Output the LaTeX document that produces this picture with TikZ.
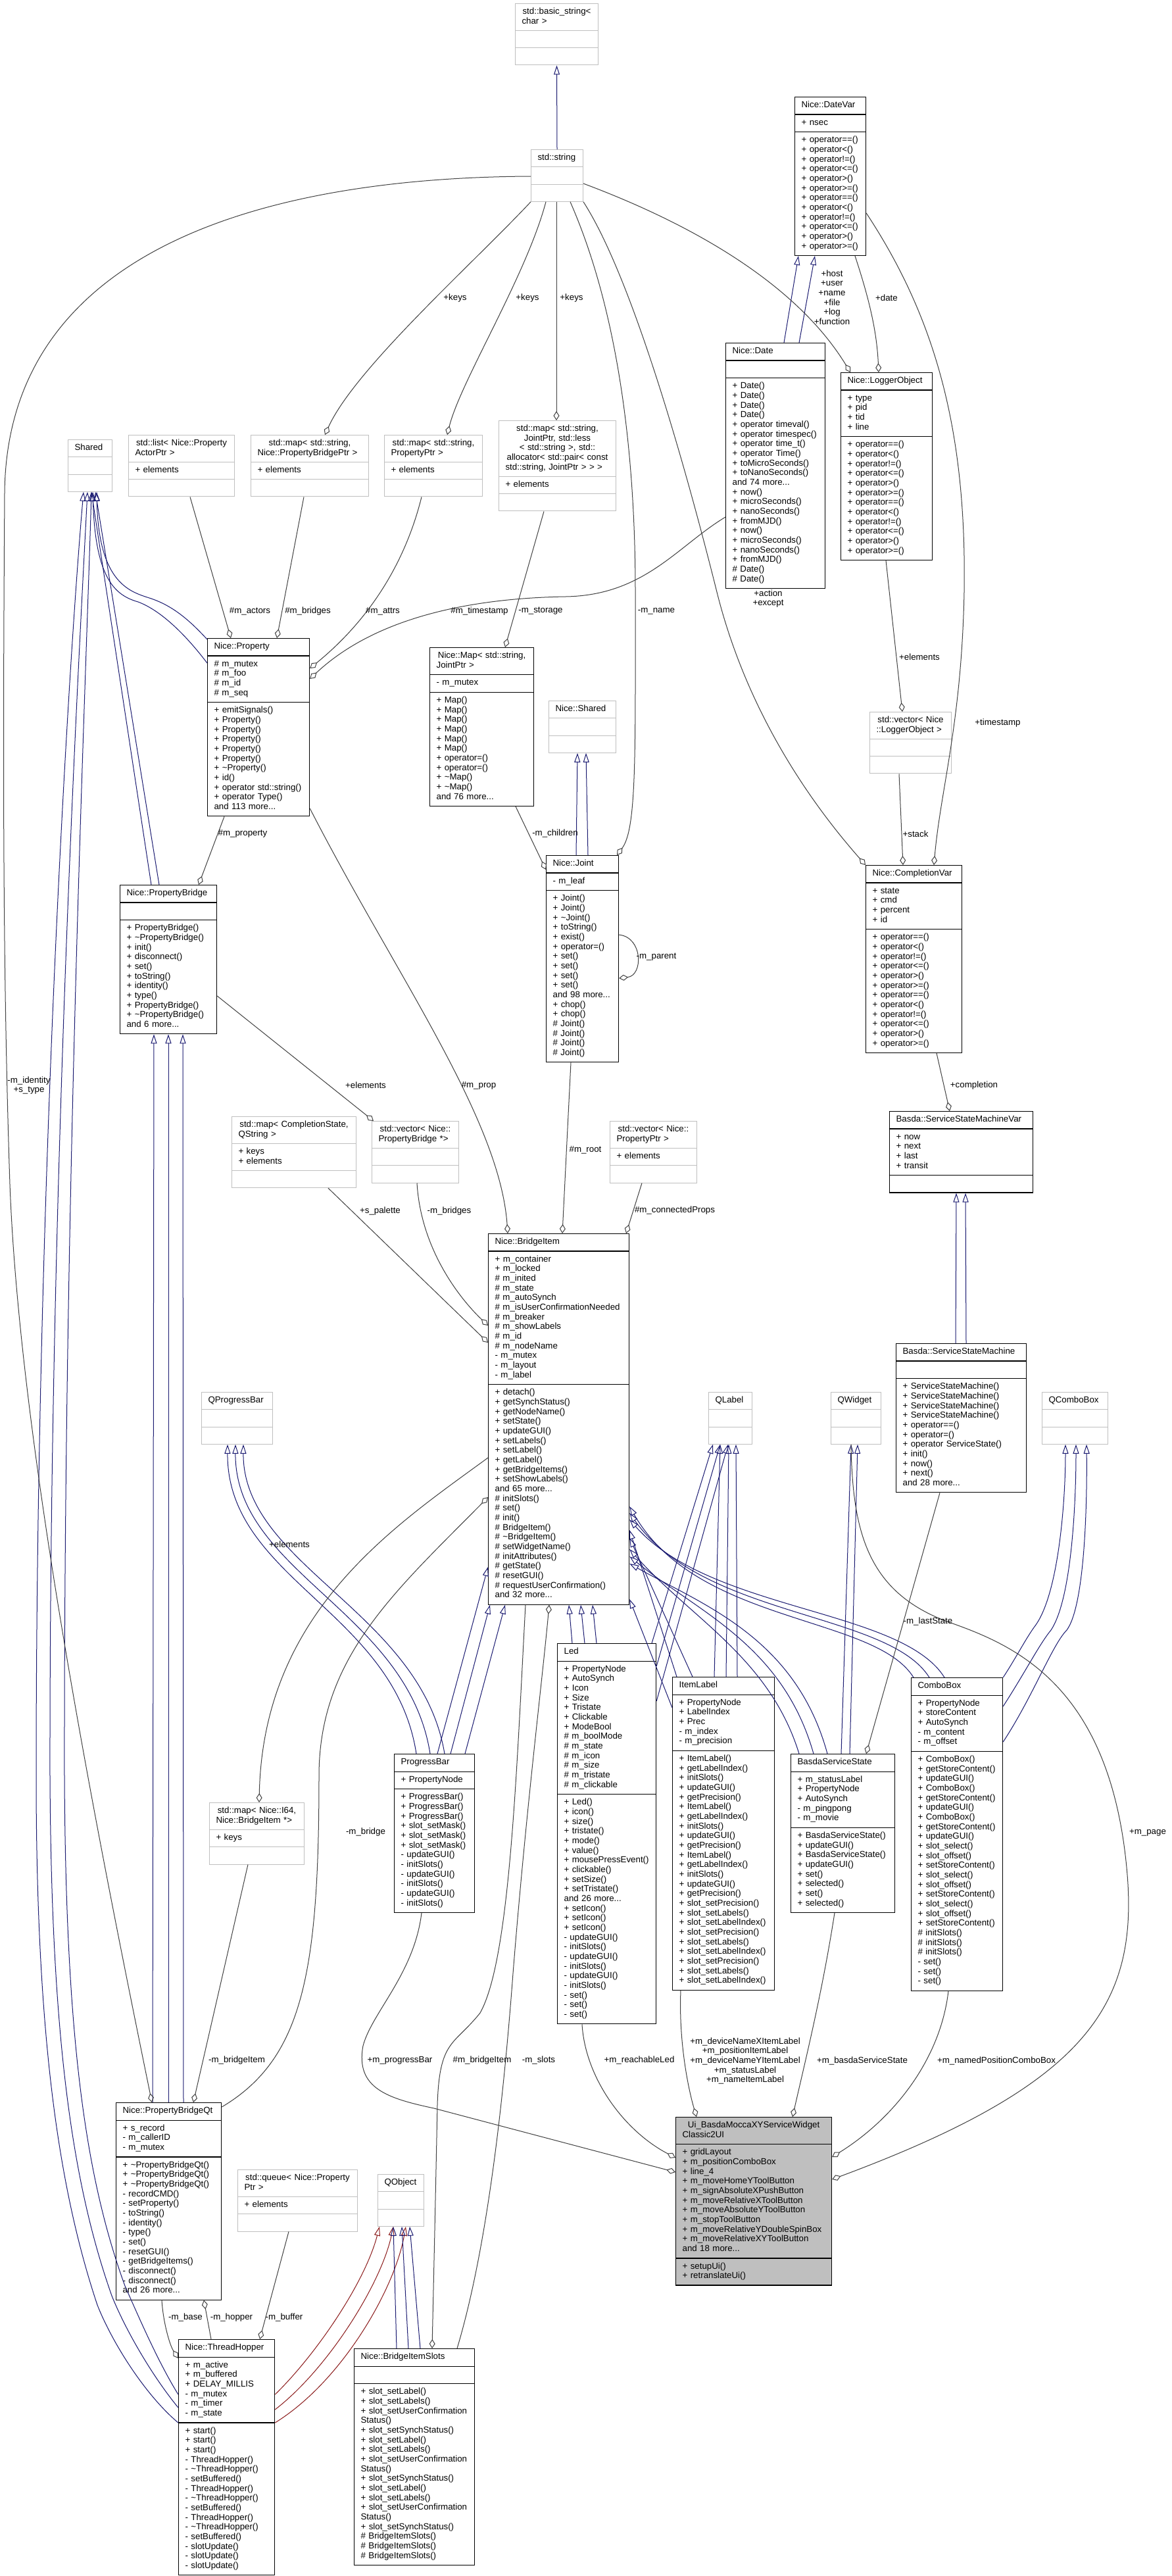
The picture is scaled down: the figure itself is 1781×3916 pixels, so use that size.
\documentclass[tikz,border=0pt]{standalone}
\usepackage{fontspec}
\setmainfont{Liberation Sans}
\usetikzlibrary{shapes.multipart,arrows.meta}
\definecolor{inhc}{HTML}{191970}
\definecolor{privc}{HTML}{8B1A1A}
\definecolor{aggc}{HTML}{404040}
\definecolor{gbord}{HTML}{BFBFBF}
\newcommand{\fs}{\fontsize{13.3}{14.67}\selectfont\parindent=0pt\parskip=0pt\relax}
\newcommand{\sixops}{+ operator==()\\+ operator<()\\+ operator!=()\\+ operator<=()\\+ operator>()\\+ operator>=()}
\newcommand{\umlc}[8]{%
  \node[#1, text width=#5] (#2) at (#3,#4) {\centering\leftskip=-40pt plus 1fil\rightskip=-40pt plus 1fil\strut #6\strut
    \nodepart{second}\raggedright\rightskip=-80pt plus 1fil\strut #7\strut
    \nodepart{third}\raggedright\rightskip=-80pt plus 1fil\strut #8\strut};}
\tikzset{
  cls/.style={rectangle split, rectangle split parts=3, draw=black, line width=1.2pt, fill=white,
    inner xsep=10pt, inner ysep=5.3pt, anchor=north west, align=left, font=\fs, text=black},
  gcls/.style={cls, draw=gbord, line width=1pt},
  ucls/.style={cls, fill=gbord},
  inhb/.style={draw=inhc, line width=1pt, -{Triangle[open,length=14pt,width=9pt]}},
  inhr/.style={draw=privc, line width=1pt, -{Triangle[open,length=14pt,width=9pt]}},
  agg/.style={draw=aggc, line width=1pt, -{Diamond[open,length=14pt,width=9pt]}},
  lab/.style={font=\fs, inner sep=0pt, align=center, text=black}
}
\begin{document}
\begin{tikzpicture}[x=1pt,y=-1pt]
\fill[white] (0,0) rectangle (1781,3916);
\useasboundingbox (0,0) rectangle (1781,3916);

% ---------------- classes ----------------
\umlc{gcls}{bstr}{783}{5}{106pt}{std::basic\_string<\\char >}{}{}
\umlc{gcls}{sstr}{807}{227}{59pt}{std::string}{}{}
\umlc{cls}{datevar}{1208}{147}{88pt}{Nice::DateVar}{+ nsec}{\sixops\\\sixops}
\umlc{cls}{date}{1103}{521}{131pt}{Nice::Date}{}{+ Date()\\+ Date()\\+ Date()\\+ Date()\\+ operator timeval()\\+ operator timespec()\\+ operator time\_t()\\+ operator Time()\\+ toMicroSeconds()\\+ toNanoSeconds()\\and 74 more...\\+ now()\\+ microSeconds()\\+ nanoSeconds()\\+ fromMJD()\\+ now()\\+ microSeconds()\\+ nanoSeconds()\\+ fromMJD()\\\# Date()\\\# Date()}
\umlc{cls}{logger}{1278}{566}{119pt}{Nice::LoggerObject}{+ type\\+ pid\\+ tid\\+ line}{\sixops\\\sixops}
\umlc{gcls}{shared}{103}{668}{47pt}{Shared}{}{}
\umlc{gcls}{slist}{195}{661}{141pt}{std::list< Nice::Property\\ActorPtr >}{+ elements}{}
\umlc{gcls}{mapbridge}{381}{661}{159pt}{std::map< std::string,\\Nice::PropertyBridgePtr >}{+ elements}{}
\umlc{gcls}{mapprop}{584}{661}{129pt}{std::map< std::string,\\PropertyPtr >}{+ elements}{}
\umlc{gcls}{mapjoint}{758}{639}{158pt}{std::map< std::string,\\JointPtr, std::less\\< std::string >, std::\\allocator< std::pair< const\\std::string, JointPtr > > >}{+ elements}{}
\umlc{cls}{prop}{315}{970}{135pt}{Nice::Property}{\# m\_mutex\\\# m\_foo\\\# m\_id\\\# m\_seq}{+ emitSignals()\\+ Property()\\+ Property()\\+ Property()\\+ Property()\\+ Property()\\+ \textasciitilde Property()\\+ id()\\+ operator std::string()\\+ operator Type()\\and 113 more...}
\umlc{cls}{nmap}{653}{984}{138pt}{Nice::Map< std::string,\\JointPtr >}{- m\_mutex}{+ Map()\\+ Map()\\+ Map()\\+ Map()\\+ Map()\\+ Map()\\+ operator=()\\+ operator=()\\+ \textasciitilde Map()\\+ \textasciitilde Map()\\and 76 more...}
\umlc{gcls}{nshared}{834}{1065}{82pt}{Nice::Shared}{}{}
\umlc{cls}{joint}{830}{1300}{90pt}{Nice::Joint}{- m\_leaf}{+ Joint()\\+ Joint()\\+ \textasciitilde Joint()\\+ toString()\\+ exist()\\+ operator=()\\+ set()\\+ set()\\+ set()\\+ set()\\and 98 more...\\+ chop()\\+ chop()\\\# Joint()\\\# Joint()\\\# Joint()\\\# Joint()}
\umlc{gcls}{vlogger}{1322}{1082}{104pt}{std::vector< Nice\\::LoggerObject >}{}{}
\umlc{cls}{compvar}{1316}{1315}{126pt}{Nice::CompletionVar}{+ state\\+ cmd\\+ percent\\+ id}{\sixops\\\sixops}
\umlc{cls}{ssmvar}{1352}{1689}{198pt}{Basda::ServiceStateMachineVar}{+ now\\+ next\\+ last\\+ transit}{}
\umlc{gcls}{vprop}{927}{1704}{112pt}{std::vector< Nice::\\PropertyPtr >}{+ elements}{}
\umlc{cls}{pbridge}{182}{1345}{127pt}{Nice::PropertyBridge}{}{+ PropertyBridge()\\+ \textasciitilde PropertyBridge()\\+ init()\\+ disconnect()\\+ set()\\+ toString()\\+ identity()\\+ type()\\+ PropertyBridge()\\+ \textasciitilde PropertyBridge()\\and 6 more...}
\umlc{gcls}{mapcs}{352}{1697}{169pt}{std::map< CompletionState,\\QString >}{+ keys\\+ elements}{}
\umlc{gcls}{vpb}{565}{1704}{112pt}{std::vector< Nice::\\PropertyBridge *>}{}{}
\umlc{cls}{bitem}{742}{1875}{194pt}{Nice::BridgeItem}{+ m\_container\\+ m\_locked\\\# m\_inited\\\# m\_state\\\# m\_autoSynch\\\# m\_isUserConfirmationNeeded\\\# m\_breaker\\\# m\_showLabels\\\# m\_id\\\# m\_nodeName\\- m\_mutex\\- m\_layout\\- m\_label}{+ detach()\\+ getSynchStatus()\\+ getNodeName()\\+ setState()\\+ updateGUI()\\+ setLabels()\\+ setLabel()\\+ getLabel()\\+ getBridgeItems()\\+ setShowLabels()\\and 65 more...\\\# initSlots()\\\# set()\\\# init()\\\# BridgeItem()\\\# \textasciitilde BridgeItem()\\\# setWidgetName()\\\# initAttributes()\\\# getState()\\\# resetGUI()\\\# requestUserConfirmation()\\and 32 more...}
\umlc{cls}{ssm}{1362}{2042}{178pt}{Basda::ServiceStateMachine}{}{+ ServiceStateMachine()\\+ ServiceStateMachine()\\+ ServiceStateMachine()\\+ ServiceStateMachine()\\+ operator==()\\+ operator=()\\+ operator ServiceState()\\+ init()\\+ now()\\+ next()\\and 28 more...}
\umlc{gcls}{qprogress}{306}{2116}{88pt}{QProgressBar}{}{}
\umlc{gcls}{qlabel}{1077}{2116}{46pt}{QLabel}{}{}
\umlc{gcls}{qwidget}{1263}{2116}{56pt}{QWidget}{}{}
\umlc{gcls}{qcombo}{1584}{2116}{80pt}{QComboBox}{}{}
\umlc{cls}{led}{847}{2498}{130pt}{Led}{+ PropertyNode\\+ AutoSynch\\+ Icon\\+ Size\\+ Tristate\\+ Clickable\\+ ModeBool\\\# m\_boolMode\\\# m\_state\\\# m\_icon\\\# m\_size\\\# m\_tristate\\\# m\_clickable}{+ Led()\\+ icon()\\+ size()\\+ tristate()\\+ mode()\\+ value()\\+ mousePressEvent()\\+ clickable()\\+ setSize()\\+ setTristate()\\and 26 more...\\+ setIcon()\\+ setIcon()\\+ setIcon()\\- updateGUI()\\- initSlots()\\- updateGUI()\\- initSlots()\\- updateGUI()\\- initSlots()\\- set()\\- set()\\- set()}
\umlc{cls}{itemlabel}{1022}{2549}{135pt}{ItemLabel}{+ PropertyNode\\+ LabelIndex\\+ Prec\\- m\_index\\- m\_precision}{+ ItemLabel()\\+ getLabelIndex()\\+ initSlots()\\+ updateGUI()\\+ getPrecision()\\+ ItemLabel()\\+ getLabelIndex()\\+ initSlots()\\+ updateGUI()\\+ getPrecision()\\+ ItemLabel()\\+ getLabelIndex()\\+ initSlots()\\+ updateGUI()\\+ getPrecision()\\+ slot\_setPrecision()\\+ slot\_setLabels()\\+ slot\_setLabelIndex()\\+ slot\_setPrecision()\\+ slot\_setLabels()\\+ slot\_setLabelIndex()\\+ slot\_setPrecision()\\+ slot\_setLabels()\\+ slot\_setLabelIndex()}
\umlc{cls}{bss}{1202}{2666}{138pt}{BasdaServiceState}{+ m\_statusLabel\\+ PropertyNode\\+ AutoSynch\\- m\_pingpong\\- m\_movie}{+ BasdaServiceState()\\+ updateGUI()\\+ BasdaServiceState()\\+ updateGUI()\\+ set()\\+ selected()\\+ set()\\+ selected()}
\umlc{cls}{combobox}{1385}{2550}{119pt}{ComboBox}{+ PropertyNode\\+ storeContent\\+ AutoSynch\\- m\_content\\- m\_offset}{+ ComboBox()\\+ getStoreContent()\\+ updateGUI()\\+ ComboBox()\\+ getStoreContent()\\+ updateGUI()\\+ ComboBox()\\+ getStoreContent()\\+ updateGUI()\\+ slot\_select()\\+ slot\_offset()\\+ setStoreContent()\\+ slot\_select()\\+ slot\_offset()\\+ setStoreContent()\\+ slot\_select()\\+ slot\_offset()\\+ setStoreContent()\\\# initSlots()\\\# initSlots()\\\# initSlots()\\- set()\\- set()\\- set()}
\umlc{cls}{pbar}{599}{2666}{102pt}{ProgressBar}{+ PropertyNode}{+ ProgressBar()\\+ ProgressBar()\\+ ProgressBar()\\+ slot\_setMask()\\+ slot\_setMask()\\+ slot\_setMask()\\- updateGUI()\\- initSlots()\\- updateGUI()\\- initSlots()\\- updateGUI()\\- initSlots()}
\umlc{gcls}{mapi64}{318}{2740}{124pt}{std::map< Nice::I64,\\Nice::BridgeItem *>}{+ keys}{}
\umlc{ucls}{ui}{1027}{3218}{217pt}{Ui\_BasdaMoccaXYServiceWidget\\Classic2UI}{+ gridLayout\\+ m\_positionComboBox\\+ line\_4\\+ m\_moveHomeYToolButton\\+ m\_signAbsoluteXPushButton\\+ m\_moveRelativeXToolButton\\+ m\_moveAbsoluteYToolButton\\+ m\_stopToolButton\\+ m\_moveRelativeYDoubleSpinBox\\+ m\_moveRelativeXYToolButton\\and 18 more...}{+ setupUi()\\+ retranslateUi()}
\umlc{cls}{pbqt}{176}{3196}{140pt}{Nice::PropertyBridgeQt}{+ s\_record\\- m\_callerID\\- m\_mutex}{+ \textasciitilde PropertyBridgeQt()\\+ \textasciitilde PropertyBridgeQt()\\+ \textasciitilde PropertyBridgeQt()\\- recordCMD()\\- setProperty()\\- toString()\\- identity()\\- type()\\- set()\\- resetGUI()\\- getBridgeItems()\\- disconnect()\\- disconnect()\\and 26 more...}
\umlc{gcls}{squeue}{361}{3298}{162pt}{std::queue< Nice::Property\\Ptr >}{+ elements}{}
\umlc{gcls}{qobject}{574}{3305}{50pt}{QObject}{}{}
\umlc{cls}{hopper}{271}{3556}{126pt}{Nice::ThreadHopper}{+ m\_active\\+ m\_buffered\\+ DELAY\_MILLIS\\- m\_mutex\\- m\_timer\\- m\_state}{+ start()\\+ start()\\+ start()\\- ThreadHopper()\\- \textasciitilde ThreadHopper()\\- setBuffered()\\- ThreadHopper()\\- \textasciitilde ThreadHopper()\\- setBuffered()\\- ThreadHopper()\\- \textasciitilde ThreadHopper()\\- setBuffered()\\- slotUpdate()\\- slotUpdate()\\- slotUpdate()}
\umlc{cls}{bislots}{538}{3570}{163pt}{Nice::BridgeItemSlots}{}{+ slot\_setLabel()\\+ slot\_setLabels()\\+ slot\_setUserConfirmation\\Status()\\+ slot\_setSynchStatus()\\+ slot\_setLabel()\\+ slot\_setLabels()\\+ slot\_setUserConfirmation\\Status()\\+ slot\_setSynchStatus()\\+ slot\_setLabel()\\+ slot\_setLabels()\\+ slot\_setUserConfirmation\\Status()\\+ slot\_setSynchStatus()\\\# BridgeItemSlots()\\\# BridgeItemSlots()\\\# BridgeItemSlots()}

% ---------------- inheritance ----------------
\draw[inhb] (sstr.north) -- (bstr.south);
\draw[inhb] ([xshift=89]date.north west) -- ([xshift=6]datevar.south west);
\draw[inhb] ([xshift=112]date.north west) -- ([xshift=31]datevar.south west);
\draw[inhb] ([xshift=46]joint.north west) -- ([xshift=44]nshared.south west);
\draw[inhb] ([xshift=64]joint.north west) -- ([xshift=57]nshared.south west);
\draw[inhb] ([yshift=-2]prop.north west) .. controls (290,945) and (265,922) .. (230,910) .. controls (200,900) and (150,890) .. ([xshift=44]shared.south west);
\draw[inhb] ([yshift=-38]prop.north west) .. controls (290,975) and (250,930) .. (210,915) .. controls (175,905) and (145,880) .. ([xshift=38]shared.south west);
\draw[inhb] ([xshift=48]pbridge.north west) -- ([xshift=36]shared.south west);
\draw[inhb] ([xshift=60]pbridge.north west) -- ([xshift=42]shared.south west);
\draw[inhb] ([yshift=-127]hopper.north west) .. controls (220,3640) and (170,3560) .. (148,3504) .. controls (90,3330) and (55,3100) .. (55,2700) .. controls (55,1800) and (105,1000) .. ([xshift=24]shared.south west);
\draw[inhb] ([yshift=-104]hopper.north west) .. controls (230,3610) and (190,3540) .. (170,3490) .. controls (110,3320) and (78,3100) .. (76,2700) .. controls (75,1800) and (120,1000) .. ([xshift=30]shared.south west);
\draw[inhb] ([yshift=-84]hopper.north west) .. controls (240,3590) and (210,3520) .. (190,3475) .. controls (130,3310) and (100,3100) .. (98,2700) .. controls (97,1800) and (132,1000) .. ([xshift=36]shared.south west);
\draw[inhb] ([xshift=56]pbqt.north west) -- ([xshift=52]pbridge.south west);
\draw[inhb] ([xshift=80]pbqt.north west) -- ([xshift=74]pbridge.south west);
\draw[inhb] ([xshift=103]pbqt.north west) -- ([xshift=96]pbridge.south west);
\draw[inhb] ([xshift=91]ssm.north west) -- ([xshift=102]ssmvar.south west);
\draw[inhb] ([xshift=107]ssm.north west) -- ([xshift=116]ssmvar.south west);
\draw[inhb] ([xshift=77]bss.north west) -- ([xshift=31]qwidget.south west);
\draw[inhb] ([xshift=90]bss.north west) -- ([xshift=41]qwidget.south west);
\draw[inhb] (combobox.north east) .. controls (1545,2520) and (1560,2490) .. (1575,2470) .. controls (1610,2420) and (1620,2280) .. ([xshift=36]qcombo.south west);
\draw[inhb] ([yshift=-44]combobox.north east) .. controls (1560,2540) and (1580,2500) .. (1598,2478) .. controls (1630,2430) and (1636,2280) .. ([xshift=52]qcombo.south west);
\draw[inhb] ([yshift=-98]combobox.north east) .. controls (1570,2580) and (1600,2500) .. (1622,2478) .. controls (1650,2440) and (1653,2280) .. ([xshift=68]qcombo.south west);
\draw[inhb] ([xshift=4]combobox.north west) .. controls (1330,2455) and (1060,2470) .. ([yshift=-415]bitem.north east);
\draw[inhb] ([xshift=28]combobox.north west) .. controls (1350,2450) and (1070,2460) .. ([yshift=-425]bitem.north east);
\draw[inhb] ([xshift=51]combobox.north west) .. controls (1370,2445) and (1080,2450) .. ([yshift=-435]bitem.north east);
\draw[inhb] ([xshift=13]bss.north west) .. controls (1170,2520) and (1050,2460) .. ([yshift=-480]bitem.north east);
\draw[inhb] ([xshift=35]bss.north west) .. controls (1190,2500) and (1060,2450) .. ([yshift=-491]bitem.north east);
\draw[inhb] ([xshift=56]bss.north west) .. controls (1210,2490) and (1070,2440) .. ([yshift=-502]bitem.north east);
\draw[inhb] ([yshift=-47]itemlabel.north west) -- ([yshift=-556]bitem.north east);
\draw[inhb] ([xshift=7]itemlabel.north west) -- ([yshift=-451]bitem.north east);
\draw[inhb] ([xshift=31]itemlabel.north west) -- ([yshift=-463]bitem.north east);
\draw[inhb] ([xshift=23]led.north west) -- ([xshift=123]bitem.south west);
\draw[inhb] ([xshift=42]led.north west) -- ([xshift=141]bitem.south west);
\draw[inhb] ([xshift=60]led.north west) -- ([xshift=159]bitem.south west);
\draw[inhb] ([xshift=144]led.north west) -- ([xshift=7]qlabel.south west);
\draw[inhb] ([yshift=-35]led.north east) -- ([xshift=18]qlabel.south west);
\draw[inhb] ([yshift=-88]led.north east) -- ([xshift=30]qlabel.south west);
\draw[inhb] ([xshift=64]itemlabel.north west) -- ([xshift=18]qlabel.south west);
\draw[inhb] ([xshift=82]itemlabel.north west) -- ([xshift=31]qlabel.south west);
\draw[inhb] ([xshift=99]itemlabel.north west) -- ([xshift=42]qlabel.south west);
\draw[inhb] ([xshift=66]pbar.north west) -- ([yshift=-507]bitem.north west);
\draw[inhb] ([xshift=86]pbar.north west) -- ([xshift=3]bitem.south west);
\draw[inhb] ([xshift=108]pbar.north west) -- ([xshift=26]bitem.south west);
\draw[inhb] ([xshift=34]pbar.north west) .. controls (600,2450) and (345,2400) .. ([xshift=40]qprogress.south west);
\draw[inhb] ([xshift=55]pbar.north west) .. controls (620,2450) and (357,2390) .. ([xshift=52]qprogress.south west);
\draw[inhb] ([xshift=77]pbar.north west) .. controls (640,2450) and (369,2380) .. ([xshift=64]qprogress.south west);
\draw[inhr] ([yshift=-84]hopper.north east) .. controls (480,3580) and (555,3470) .. ([xshift=3]qobject.south west);
\draw[inhr] ([yshift=-107]hopper.north east) .. controls (500,3600) and (580,3470) .. ([xshift=24]qobject.south west);
\draw[inhr] ([yshift=-127]hopper.north east) .. controls (520,3620) and (600,3480) .. ([xshift=43]qobject.south west);
\draw[inhb] ([xshift=65]bislots.north west) -- ([xshift=24]qobject.south west);
\draw[inhb] ([xshift=83]bislots.north west) -- ([xshift=37]qobject.south west);
\draw[inhb] ([xshift=101]bislots.north west) -- ([xshift=49]qobject.south west);

% ---------------- aggregation ----------------
\draw[agg] ([yshift=-41]sstr.north west) .. controls (400,270) and (10,380) .. (7,750) .. controls (4,1200) and (5,1500) .. (15,1800) .. controls (30,2200) and (150,2800) .. ([xshift=55]pbqt.north west);
\draw[agg] (sstr.south west) .. controls (720,400) and (540,560) .. ([xshift=113]mapbridge.north west);
\draw[agg] ([xshift=23]sstr.south west) .. controls (800,420) and (700,580) .. ([xshift=96]mapprop.north west);
\draw[agg] ([xshift=39]sstr.south west) -- ([xshift=88]mapjoint.north west);
\draw[agg] ([xshift=60]sstr.south west) .. controls (930,450) and (966,650) .. (966,900) .. controls (966,1150) and (968,1260) .. ([xshift=108]joint.north west);
\draw[agg] (sstr.south east) .. controls (960,420) and (1040,700) .. (1090,900) .. controls (1140,1100) and (1250,1240) .. (compvar.north west);
\draw[agg] ([yshift=-52]sstr.north east) .. controls (1050,340) and (1210,430) .. ([xshift=15]logger.north west);
\draw[agg] ([xshift=92]datevar.south west) .. controls (1320,450) and (1333,500) .. ([xshift=58]logger.north west);
\draw[agg] ([yshift=-177]datevar.north east) .. controls (1420,480) and (1470,650) .. (1466,900) .. controls (1462,1100) and (1430,1200) .. ([xshift=104]compvar.north west);
\draw[agg] ([xshift=69]logger.south west) -- ([xshift=50]vlogger.north west);
\draw[agg] ([xshift=45]vlogger.south west) -- ([xshift=57]compvar.north west);
\draw[agg] ([yshift=-265]date.north west) .. controls (1030,830) and (980,905) .. (860,907) .. controls (740,909) and (580,930) .. ([yshift=-62]prop.north east);
\draw[agg] ([xshift=57]mapprop.south west) .. controls (610,880) and (540,960) .. ([yshift=-46]prop.north east);
\draw[agg] ([xshift=94]slist.south west) -- ([xshift=36]prop.north west);
\draw[agg] ([xshift=81]mapbridge.south west) -- ([xshift=106]prop.north west);
\draw[agg] ([xshift=69]mapjoint.south west) -- ([xshift=115]nmap.north west);
\draw[agg] ([xshift=131]nmap.south west) -- ([yshift=-22]joint.north west);
\draw[agg] ([yshift=-121]joint.north east) .. controls (978,1425) and (978,1483) .. ([yshift=-187]joint.north east);
\draw[agg] ([xshift=26]prop.south west) -- ([xshift=120]pbridge.north west);
\draw[agg] ([yshift=-169]pbridge.north east) -- ([xshift=3]vpb.north west);
\draw[agg] ([yshift=-259]prop.north east) .. controls (600,1480) and (760,1700) .. ([xshift=30]bitem.north west);
\draw[agg] ([xshift=147]mapcs.south west) -- ([yshift=-166]bitem.north west);
\draw[agg] ([xshift=69]vpb.south west) .. controls (640,1900) and (700,1975) .. ([yshift=-140]bitem.north west);
\draw[agg] ([xshift=38]joint.south west) -- ([xshift=113]bitem.north west);
\draw[agg] ([xshift=49]vprop.south west) -- ([xshift=210]bitem.north west);
\draw[agg] ([xshift=108]compvar.south west) -- ([xshift=92]ssmvar.north west);
\draw[agg] ([xshift=67]ssm.south west) -- ([xshift=115]bss.north west);
\draw[agg] ([xshift=31]qwidget.south west) .. controls (1296,2330) and (1320,2420) .. (1440,2465) .. controls (1540,2500) and (1690,2560) .. (1714,2850) .. controls (1730,3050) and (1650,3170) .. ([yshift=-95]ui.north east);
\draw[agg] ([yshift=-341]bitem.north west) .. controls (600,2320) and (400,2450) .. ([xshift=76]mapi64.north west);
\draw[agg] ([yshift=-7]pbqt.north east) .. controls (460,3130) and (485,3000) .. (485,2700) .. controls (485,2520) and (600,2420) .. ([yshift=-401]bitem.north west);
\draw[agg] ([xshift=59]mapi64.south west) -- ([xshift=118]pbqt.north west);
\draw[agg] ([xshift=57]bitem.south west) .. controls (785,2700) and (775,2980) .. (730,3060) .. controls (690,3110) and (668,3100) .. (665,3200) .. controls (662,3350) and (659,3480) .. ([xshift=119]bislots.north west);
\draw[agg] ([xshift=157]bislots.north west) .. controls (740,3420) and (765,3200) .. (780,3000) .. controls (800,2750) and (825,2550) .. ([xshift=93]bitem.south west);
\draw[agg] ([xshift=42]pbar.south west) .. controls (630,3000) and (565,3060) .. (552,3110) .. controls (540,3175) and (590,3190) .. (660,3205) -- ([yshift=-84]ui.north west);
\draw[agg] ([xshift=38]led.south west) .. controls (890,3160) and (950,3240) .. ([yshift=-62]ui.north west);
\draw[agg] ([xshift=13]itemlabel.south west) .. controls (1032,3100) and (1045,3170) .. ([xshift=32]ui.north west);
\draw[agg] ([xshift=67]bss.south west) .. controls (1250,3030) and (1225,3130) .. ([xshift=178]ui.north west);
\draw[agg] ([xshift=57]combobox.south west) .. controls (1430,3130) and (1360,3220) .. ([yshift=-61]ui.north east);
\draw[agg] ([xshift=70]pbqt.south west) .. controls (248,3530) and (258,3565) .. ([yshift=-29]hopper.north west);
\draw[agg] ([xshift=50]hopper.north west) -- ([xshift=134]pbqt.south west);
\draw[agg] ([xshift=78]squeue.south west) -- ([xshift=124]hopper.north west);

% ---------------- labels ----------------
\node[lab] (lk1) at (692,453) {+keys};
\node[lab] (lk2) at (802,453) {+keys};
\node[lab] (lk3) at (869,453) {+keys};
\node[lab] (lhost) at (1265,452) {+host\\+user\\+name\\+file\\+log\\+function};
\node[lab] (ldate) at (1348,453) {+date};
\node[lab] (lactors) at (380,929) {\#m\_actors};
\node[lab] (lbridges) at (468,929) {\#m\_bridges};
\node[lab] (lattrs) at (582,929) {\#m\_attrs};
\node[lab] (ltimestamp) at (729,929) {\#m\_timestamp};
\node[lab] (lstorage) at (822,929) {-m\_storage};
\node[lab] (lname) at (998,929) {-m\_name};
\node[lab] (laction) at (1168,910) {+action\\+except};
\node[lab] (lelem2) at (1398,999) {+elements};
\node[lab] (ltimestamp2) at (1517,1099) {+timestamp};
\node[lab] (lstack) at (1392,1268) {+stack};
\node[lab] (lchildren) at (844,1267) {-m\_children};
\node[lab] (lproperty) at (369,1267) {\#m\_property};
\node[lab] (lparent) at (998,1455) {-m\_parent};
\node[lab] (lidentity) at (44,1650) {-m\_identity\\+s\_type};
\node[lab] (lelem1) at (556,1650) {+elements};
\node[lab] (lprop) at (728,1650) {\#m\_prop};
\node[lab] (lcompletion) at (1481,1650) {+completion};
\node[lab] (lroot) at (890,1748) {\#m\_root};
\node[lab] (lpalette) at (578,1841) {+s\_palette};
\node[lab] (lbridges2) at (683,1841) {-m\_bridges};
\node[lab] (lconn) at (1026,1840) {\#m\_connectedProps};
\node[lab] (lelem3) at (440,2348) {+elements};
\node[lab] (llast) at (1411,2465) {-m\_lastState};
\node[lab] (lpage) at (1745,2786) {+m\_page};
\node[lab] (lbridge) at (556,2785) {-m\_bridge};
\node[lab] (lbitem1) at (360,3132) {-m\_bridgeItem};
\node[lab] (lpbar) at (608,3132) {+m\_progressBar};
\node[lab] (lbitem2) at (733,3132) {\#m\_bridgeItem};
\node[lab] (lslots) at (819,3132) {-m\_slots};
\node[lab] (lled) at (972,3132) {+m\_reachableLed};
\node[lab] (litem) at (1133,3133) {+m\_deviceNameXItemLabel\\+m\_positionItemLabel\\+m\_deviceNameYItemLabel\\+m\_statusLabel\\+m\_nameItemLabel};
\node[lab] (lbss) at (1311,3133) {+m\_basdaServiceState};
\node[lab] (lcombo) at (1515,3133) {+m\_namedPositionComboBox};
\node[lab] (lbase) at (282,3523) {-m\_base};
\node[lab] (lhopper) at (352,3523) {-m\_hopper};
\node[lab] (lbuffer) at (432,3523) {-m\_buffer};
\end{tikzpicture}
\end{document}
